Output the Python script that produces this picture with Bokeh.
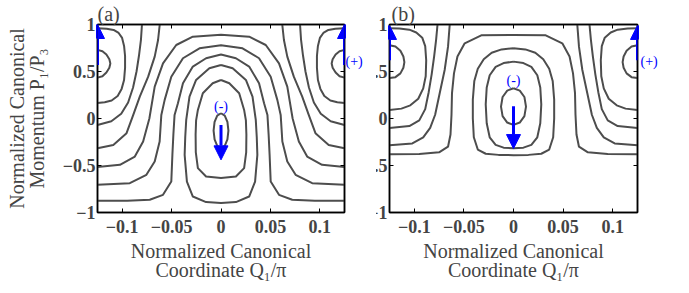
import numpy as np
from bokeh.plotting import figure
from bokeh.layouts import row
from bokeh.models import Arrow, NormalHead, Label, FixedTicker, Range1d, LinearAxis, ColumnDataSource
from bokeh.embed import file_html
from bokeh.resources import INLINE

# ---------------- axis ticks ----------------
X_TICKS = [-0.1, -0.05, 0, 0.05, 0.1]
X_TICK_LABELS = ["\u22120.1", "\u22120.05", "0", "0.05", "0.1"]
Y_TICKS = [-1, -0.5, 0, 0.5, 1]
Y_TICK_LABELS = ["\u22121", "\u22120.5", "0", "0.5", "1"]

# ---------------- panel (a): right half of each contour (Q1/pi >= 0) ----------------
a_E0_q = [0, .0038, .0065, .0075, .0065, .0038, 0]
a_E0_p = [.056, .031, -.037, -.13, -.223, -.291, -.316]
a_L1_q = [0, .0084, .0184, .0234, .0252, .0257, .0255, .0234, .0151, 0]
a_L1_p = [.41, .375, .269, .091, -.02, -.17, -.36, -.528, -.617, -.634]
a_L2_q = [0, .0118, .0252, .0319, .0352, .0362, .0368, .0345, .0285, .0151, 0]
a_L2_p = [.57, .535, .41, .233, -.015, -.2, -.387, -.671, -.83, -.889, -.90]
a_O1_q = [0, .0151, .0285, .0385, .0436, .047, .0482, .0492, .0503, .0587, .0721, .095, .125]
a_O1_p = [.68, .641, .552, .375, .163, .038, -.17, -.387, -.671, -.812, -.865, -.875, -.876]
a_O2_q = [0, .0218, .0385, .0503, .057, .0604, .0621, .0671, .0755, .0923, .125]
a_O2_p = [.78, .747, .641, .445, .198, .038, -.245, -.458, -.599, -.688, -.706]
a_O3_q = [0, .0285, .0453, .0587, .0671, .0725, .0788, .0872, .1023, .125]
a_O3_p = [.89, .870, .782, .587, .339, .0, -.245, -.405, -.493, -.515]
a_T1_q = [.062, .0637, .0671, .0737, .0822, .0888, .0956, .109, .125]
a_T1_p = [1, .835, .658, .445, .233, .038, -.156, -.281, -.316]
a_T2_q = [.080, .081, .083, .0855, .089, .094, .101, .111, .125]
a_T2_p = [1, .84, .67, .5, .33, .17, .05, -.03, -.069]
a_A2_q = [.125, .1157, .1087, .1036, .1001, .0981, .0971, .0971, .0981, .1006, .1046, .1107, .1177, .125]
a_A2_p = [.960, .955, .942, .910, .857, .772, .665, .538, .410, .315, .240, .192, .173, .166]
a_A1_q = [.125, .120, .116, .113, .112, .113, .116, .120, .125]
a_A1_p = [.73, .715, .68, .63, .585, .54, .49, .45, .435]

# ---------------- panel (b) ----------------
b_E0_q = [0, .0063, .011, .0126, .011, .0063, 0]
b_E0_p = [.322, .297, .229, .127, .025, -.043, -.068]
b_L2_q = [0, .01, .018, .024, .027, .028, .027, .024, .018, .01, 0]
b_L2_p = [.605, .59, .55, .46, .33, .15, -.05, -.2, -.28, -.31, -.316]
b_L3_q = [0, .012, .022, .030, .036, .0395, .041, .041, .040, .036, .028, .015, 0]
b_L3_p = [.747, .735, .70, .63, .53, .40, .2, 0, -.2, -.33, -.375, -.387, -.39]
b_O1_q = [0, .0325, .0492, .0565, .060, .062, .0625, .0635, .066, .075, .095, .125]
b_O1_p = [.888, .885, .80, .66, .48, .27, .04, -.17, -.30, -.36, -.377, -.38]
b_T1_q = [.0643, .066, .0694, .0744, .079, .084, .091, .102, .125]
b_T1_p = [1, .764, .516, .269, .04, -.1, -.2, -.265, -.285]
b_T2_q = [.0766, .078, .080, .0825, .0855, .089, .095, .105, .125]
b_T2_p = [1, .84, .66, .47, .28, .1, -.02, -.08, -.10]
b_A2_q = [.125, .115, .105, .098, .092, .089, .088, .0885, .091, .096, .104, .113, .125]
b_A2_p = [.96, .957, .945, .915, .86, .77, .62, .45, .32, .21, .14, .105, .09]
b_A1_q = [.125, .119, .114, .111, .110, .111, .114, .119, .125]
b_A1_p = [.78, .765, .72, .66, .60, .54, .48, .44, .43]

# arrows: x, start, end (normalized units)
a_arrow_x = [-0.125, 0.125, 0.0]
a_arrow_y0 = [0.57, 0.57, -0.07]
a_arrow_y1 = [1.0, 1.0, -0.44]
b_arrow_x = [-0.125, 0.125, 0.0]
b_arrow_y0 = [0.62, 0.62, 0.13]
b_arrow_y1 = [0.99, 0.99, -0.32]

# annotation positions
a_minus = (0.0, 0.13)
b_minus = (0.0, 0.40)
a_plus_p = 0.61
b_plus_p = 0.61

SERIF = "Liberation Serif"
CURVE_COLOR = "#4d4d4d"
BLUE = "#0000ff"


def build(curves):
    xs, ys = [], []
    for kind, q, p in curves:
        q = np.asarray(q, float)
        p = np.asarray(p, float)
        if kind == "loop":
            xs.append(np.concatenate([q, -q[::-1][1:]]))
            ys.append(np.concatenate([p, p[::-1][1:]]))
        elif kind == "arch":
            xs.append(np.concatenate([-q[::-1], q[1:]]))
            ys.append(np.concatenate([p[::-1], p[1:]]))
        else:
            xs.append(q); ys.append(p)
            xs.append(-q); ys.append(p)
    return xs, ys


def make_panel(width, left, right, curves, arrows, minus, plus_p, plus_gap, tag, tag_offset, ylabel):
    p = figure(width=width, height=293, x_range=Range1d(-0.125, 0.125), y_range=Range1d(-1, 1),
               output_backend="svg", toolbar_location=None,
               min_border_left=left, min_border_right=right, min_border_top=24, min_border_bottom=81)
    p.grid.visible = False
    p.outline_line_color = "black"
    p.outline_line_width = 1.5
    p.background_fill_color = "white"
    p.border_fill_color = "white"

    p.title.text = tag
    p.title.align = "left"
    p.title.text_font = SERIF
    p.title.text_font_size = "20px"
    p.title.text_font_style = "normal"
    p.title.standoff = 0
    p.title.offset = tag_offset

    xs, ys = build(curves)
    p.multi_line(xs="xs", ys="ys", source=ColumnDataSource(dict(xs=xs, ys=ys)),
                 line_color=CURVE_COLOR, line_width=2, line_join="round")

    for ax in (p.xaxis[0], p.yaxis[0]):
        ax.major_tick_in = 4
        ax.major_tick_out = 0
        ax.minor_tick_line_color = None
        ax.axis_line_width = 1.5
        ax.major_tick_line_width = 1
        ax.major_label_text_font = SERIF
        ax.major_label_text_font_style = "bold"
        ax.major_label_text_font_size = "18px"
        ax.axis_label_text_font = SERIF
        ax.axis_label_text_font_style = "normal"
        ax.axis_label_text_font_size = "20px"
        ax.axis_label_text_line_height = 0.88

    p.xaxis.ticker = FixedTicker(ticks=X_TICKS)
    p.xaxis.major_label_overrides = dict(zip(X_TICKS, X_TICK_LABELS))
    p.xaxis.major_label_standoff = 7
    p.xaxis.axis_label = "Normalized Canonical\nCoordinate Q\u2081/\u03c0"
    p.xaxis.axis_label_standoff = 4

    p.yaxis.ticker = FixedTicker(ticks=Y_TICKS)
    p.yaxis.major_label_overrides = dict(zip(Y_TICKS, Y_TICK_LABELS))
    p.yaxis.major_label_standoff = 2
    if ylabel:
        p.yaxis.axis_label = ylabel
        p.yaxis.axis_label_standoff = 12

    # ticks on the top and right sides of the box (no labels)
    for loc, tk in (("above", X_TICKS), ("right", Y_TICKS)):
        ax = LinearAxis(ticker=FixedTicker(ticks=tk), major_label_text_font_size="1px",
                        major_label_text_color=None, major_label_standoff=0,
                        major_tick_in=4, major_tick_out=0,
                        minor_tick_line_color=None, axis_line_width=1.5)
        p.add_layout(ax, loc)

    # "(+)" marker text just right of the box
    plus_ax = LinearAxis(ticker=FixedTicker(ticks=[plus_p]), major_label_overrides={plus_p: "(+)"},
                         axis_line_color=None, major_tick_line_color=None, minor_tick_line_color=None,
                         major_tick_in=0, major_tick_out=0, major_label_standoff=plus_gap,
                         major_label_text_color=BLUE, major_label_text_font=SERIF,
                         major_label_text_font_size="14px")
    p.add_layout(plus_ax, "right")

    xa, ya0, ya1 = arrows
    for x, y0, y1 in zip(xa, ya0, ya1):
        p.add_layout(Arrow(x_start=x, y_start=y0, x_end=x, y_end=y1, line_color=BLUE, line_width=3,
                           end=NormalHead(size=14, fill_color=BLUE, line_color=BLUE, line_width=1)))

    p.add_layout(Label(x=minus[0], y=minus[1], text="(-)", text_align="center", text_baseline="middle",
                       text_font=SERIF, text_font_size="14px", text_color=BLUE))
    return p


curves_a = [("loop", a_E0_q, a_E0_p), ("loop", a_L1_q, a_L1_p), ("loop", a_L2_q, a_L2_p),
            ("arch", a_O1_q, a_O1_p), ("arch", a_O2_q, a_O2_p), ("arch", a_O3_q, a_O3_p),
            ("edge", a_T1_q, a_T1_p), ("edge", a_T2_q, a_T2_p), ("edge", a_A2_q, a_A2_p),
            ("edge", a_A1_q, a_A1_p)]
curves_b = [("loop", b_E0_q, b_E0_p), ("loop", b_L2_q, b_L2_p), ("loop", b_L3_q, b_L3_p),
            ("arch", b_O1_q, b_O1_p), ("edge", b_T1_q, b_T1_p), ("edge", b_T2_q, b_T2_p),
            ("edge", b_A2_q, b_A2_p), ("edge", b_A1_q, b_A1_p)]

pa = make_panel(376, 97, 32, curves_a, (a_arrow_x, a_arrow_y0, a_arrow_y1), a_minus, a_plus_p, 1, "(a)", 0,
                "Normalized Canonical\nMomentum P\u2081/P\u2083")
pb = make_panel(340, 40, 52, curves_b, (b_arrow_x, b_arrow_y0, b_arrow_y1), b_minus, b_plus_p, 3, "(b)", 2, None)

# panel (b) is tucked under the right margin of panel (a), which hides the left part of its labels
pa.styles = {"position": "relative", "z-index": "2"}
pb.styles = {"position": "relative", "z-index": "1", "margin-left": "-27px"}

layout = row(pa, pb)
open("out.html", "w").write(file_html(layout, INLINE))
